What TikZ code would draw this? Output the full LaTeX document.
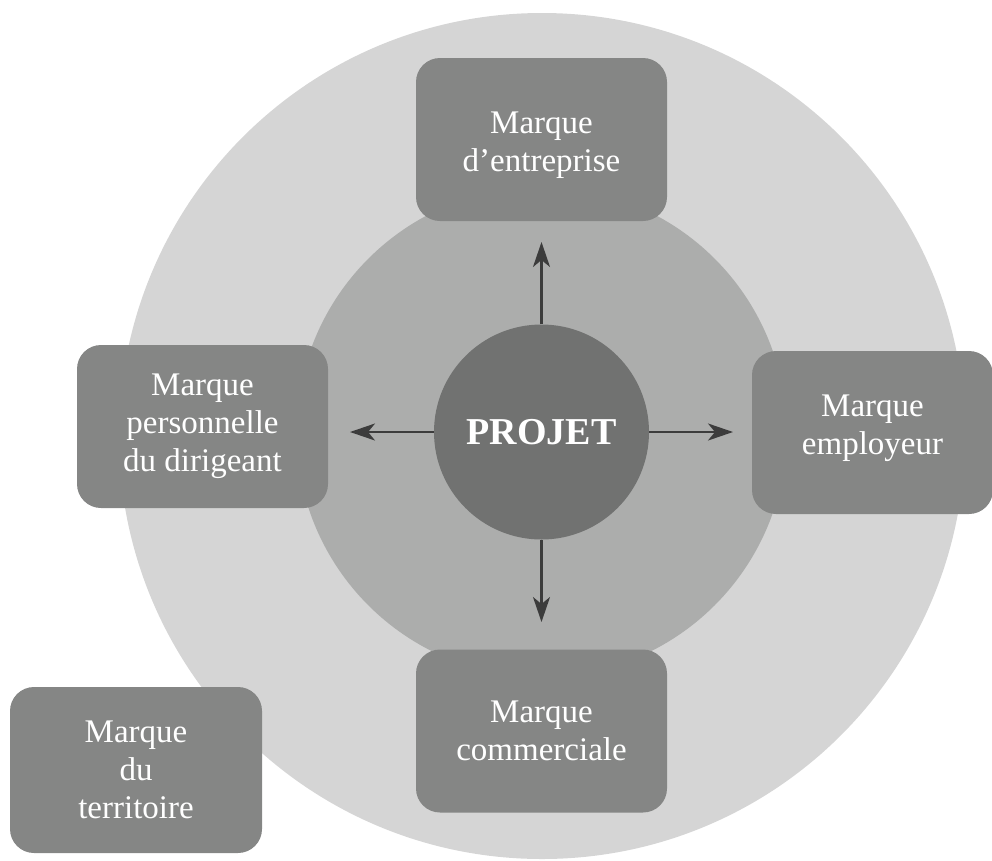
\documentclass[tikz,border=0pt]{standalone}
\usepackage{fontspec}
\setmainfont{Liberation Serif}
\usetikzlibrary{arrows.meta}

\definecolor{ringout}{HTML}{D5D5D5}
\definecolor{ringmid}{HTML}{ACADAC}
\definecolor{core}{HTML}{717271}
\definecolor{boxfill}{HTML}{858685}
\definecolor{arrowcol}{HTML}{3C3C3C}

\begin{document}
\begin{tikzpicture}[x=1pt,y=-1pt,
  brand/.style={fill=boxfill, draw=none, rounded corners=24pt,
    minimum width=251pt, minimum height=163pt, inner sep=0pt,
    text=white, align=center, font=\fontsize{33}{38}\selectfont},
  link/.style={draw=arrowcol, line width=2.2pt,
    -{Stealth[length=25pt,width=17pt,inset=7pt]}}]

  \useasboundingbox (0,0) rectangle (992,860);

  % concentric discs
  \fill[ringout] (542,436) circle (423);
  \fill[ringmid] (541.5,432) circle (245);
  \node[circle, fill=core, minimum size=215pt, inner sep=0pt, text=white,
        font=\fontsize{38}{40}\selectfont\bfseries]
        (proj) at (541.5,432) {PROJET};

  % brand boxes
  \node[brand, text height=70.5pt] (ent) at (541.5,139.5) {Marque\\d’entreprise};
  \node[brand] (dir) at (202.5,426.5) {Marque\\personnelle\\du dirigeant};
  \node[brand, minimum width=241pt, text depth=15pt] (emp) at (872.5,432.5) {Marque\\employeur};
  \node[brand] (com) at (541.5,731) {Marque\\commerciale};
  \node[brand, minimum width=252pt, minimum height=166pt] (ter) at (136,770) {Marque\\du\\territoire};

  % arrow ends
  \coordinate (tN) at (541.5,242);
  \coordinate (tS) at (541.5,622);
  \coordinate (tW) at (350,432);
  \coordinate (tE) at (733,432);

  \draw[link] (proj.north) -- (tN);
  \draw[link] (proj.south) -- (tS);
  \draw[link] (proj.west) -- (tW);
  \draw[link] (proj.east) -- (tE);
\end{tikzpicture}
\end{document}
